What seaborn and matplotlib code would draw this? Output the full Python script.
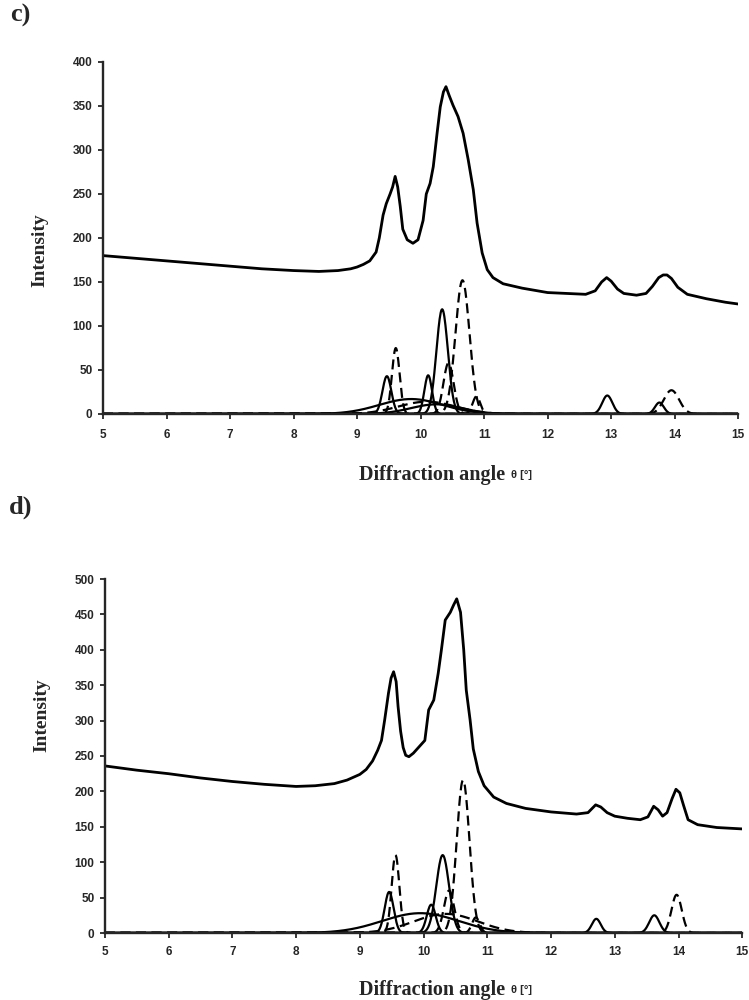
import numpy as np
import pandas as pd
import matplotlib
matplotlib.use("Agg")
import matplotlib.pyplot as plt
import seaborn as sns

sns.set_style("ticks")
plt.rcParams["font.family"] = ["Liberation Sans", "DejaVu Sans"]
plt.rcParams["font.weight"] = "bold"

c_angle = [5.0, 5.5, 6.0, 6.5, 7.0, 7.5, 8.0, 8.4, 8.7, 8.9, 9.0, 9.1, 9.2, 9.3,
           9.35, 9.41, 9.46, 9.52, 9.56, 9.6, 9.64, 9.68, 9.72, 9.79, 9.88, 9.96,
           10.04, 10.09, 10.15, 10.2, 10.26, 10.31, 10.36, 10.4, 10.45, 10.51,
           10.59, 10.67, 10.75, 10.83, 10.89, 10.97, 11.05, 11.14, 11.3, 11.6,
           12.0, 12.3, 12.6, 12.75, 12.85, 12.93, 13.0, 13.1, 13.2, 13.4, 13.55,
           13.65, 13.75, 13.82, 13.88, 13.95, 14.05, 14.2, 14.5, 14.8, 15.0]
c_total = [180, 177, 174, 171, 168, 165, 163, 162, 163, 165, 167, 170, 174, 184,
           200, 226, 239, 250, 258, 270, 258, 236, 210, 198, 194, 198,
           220, 250, 262, 281, 319, 349, 366, 372, 362, 351,
           338, 319, 289, 255, 217, 183, 164, 155, 148, 143,
           138, 137, 136, 140, 150, 155, 151, 142, 137, 135, 137,
           145, 155, 158, 158, 154, 144, 136, 131, 127, 125]

# measured pattern, panel d
d_angle = [5.0, 5.5, 6.0, 6.5, 7.0, 7.5, 8.0, 8.3, 8.6, 8.8, 9.0, 9.1, 9.2, 9.28,
           9.34, 9.39, 9.45, 9.49, 9.53, 9.57, 9.6, 9.64, 9.68, 9.72, 9.77, 9.84,
           9.92, 10.02, 10.08, 10.16, 10.23, 10.28, 10.34, 10.42, 10.47, 10.52,
           10.58, 10.63, 10.67, 10.73, 10.78, 10.86, 10.95, 11.1, 11.3, 11.6,
           12.0, 12.4, 12.58, 12.7, 12.78, 12.88, 13.0, 13.2, 13.4, 13.52, 13.61,
           13.68, 13.75, 13.82, 13.9, 13.96, 14.02, 14.08, 14.15, 14.3, 14.6, 15.0]
d_total = [236, 230, 225, 219, 214, 210, 207, 208, 211, 216, 224, 231, 243, 258,
           272, 301, 339, 360, 369, 355, 320, 285, 262, 251, 249, 254,
           262, 272, 315, 329, 367, 400, 442, 453, 463, 472,
           453, 400, 343, 301, 260, 228, 208, 192, 183, 176,
           171, 168, 170, 181, 178, 170, 165, 162, 160, 164, 179,
           174, 165, 170, 190, 203, 198, 180, 160, 153, 149, 147]

# fitted component peaks: centre, height, width
c_solid_centre = [9.47, 10.12, 10.34, 12.94, 13.76, 9.85, 10.25]
c_solid_height = [43, 44, 119, 21, 13, 17, 11]
c_solid_width = [0.07, 0.06, 0.09, 0.08, 0.07, 0.5, 0.4]
c_dash_centre = [9.61, 10.44, 10.66, 10.88, 13.95, 10.1]
c_dash_height = [75, 58, 152, 20, 27, 14]
c_dash_width = [0.06, 0.08, 0.11, 0.06, 0.12, 0.45]

d_solid_centre = [9.46, 10.12, 10.30, 12.71, 13.62, 9.95]
d_solid_height = [58, 40, 110, 20, 25, 28]
d_solid_width = [0.07, 0.07, 0.1, 0.07, 0.08, 0.6]
d_dash_centre = [9.56, 10.40, 10.62, 10.82, 13.97, 10.35]
d_dash_height = [110, 60, 216, 22, 54, 27]
d_dash_width = [0.06, 0.08, 0.1, 0.06, 0.08, 0.5]

grid = np.linspace(5, 15, 1201)


def draw_peaks(ax, centres, heights, widths, ls):
    for c, h, w in zip(centres, heights, widths):
        y = h * np.exp(-0.5 * ((grid - c) / w) ** 2)
        sns.lineplot(x=grid, y=y, ax=ax, color="k", lw=1.6, linestyle=ls)


fig = plt.figure(figsize=(7.49, 10), dpi=100)
ax_c = fig.add_axes([0.1375, 0.586, 0.848, 0.352])
ax_d = fig.add_axes([0.140, 0.067, 0.851, 0.354])

dash = (0, (4.5, 2.5))
panels = [
    (ax_c, c_angle, c_total, (c_solid_centre, c_solid_height, c_solid_width),
     (c_dash_centre, c_dash_height, c_dash_width), 400, 7),
    (ax_d, d_angle, d_total, (d_solid_centre, d_solid_height, d_solid_width),
     (d_dash_centre, d_dash_height, d_dash_width), 500, 6),
]
for ax, xs, ys, solid, dashed, ytop, xpad in panels:
    sns.lineplot(x=xs, y=ys, ax=ax, color="k", lw=2.0)
    draw_peaks(ax, *solid, "-")
    draw_peaks(ax, *dashed, dash)
    ax.set_xlim(5, 15)
    ax.set_ylim(0, ytop)
    ax.set_xticks(range(5, 16))
    ax.set_yticks(range(0, ytop + 1, 50))
    sns.despine(ax=ax)
    for s in ("left", "bottom"):
        ax.spines[s].set_linewidth(1.7)
    ax.tick_params(axis="both", direction="out", length=3.5, width=1.3,
                   labelsize=8.5)
    ax.tick_params(axis="x", pad=xpad)
    ax.tick_params(axis="y", pad=4)
    ax.set_xlabel("")
    ax.set_ylabel("")

serif = ["Liberation Serif", "DejaVu Serif"]
fig.text(0.014, 0.985, "c)", family=serif, weight="bold", fontsize=19, va="center")
fig.text(0.012, 0.493, "d)", family=serif, weight="bold", fontsize=19, va="center")

for ytxt in (0.525, 0.010):
    fig.text(0.675, ytxt, "Diffraction angle", family=serif, weight="bold",
             fontsize=14.5, ha="right", va="center")
    fig.text(0.682, ytxt, "θ [°]", fontsize=8, ha="left", va="center")

fig.text(0.053, 0.750, "Intensity", family=serif, weight="bold", fontsize=14,
         rotation=90, ha="center", va="center")
fig.text(0.056, 0.285, "Intensity", family=serif, weight="bold", fontsize=14,
         rotation=90, ha="center", va="center")

fig.savefig("out.png", dpi=100)
